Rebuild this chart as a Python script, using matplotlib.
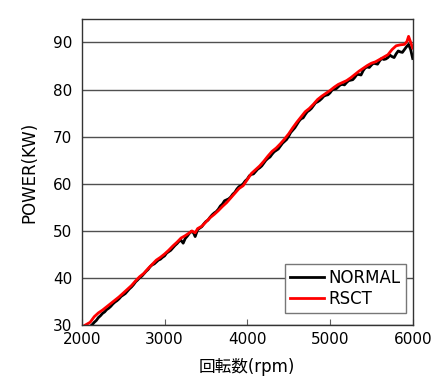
import matplotlib
matplotlib.use("Agg")
import matplotlib.pyplot as plt

plt.rcParams['font.family'] = ['DejaVu Sans', 'Noto Sans CJK JP']

# NORMAL (black)
normal_rpm = [2100, 2125, 2150, 2175, 2200, 2225, 2250, 2275, 2300, 2325, 2350, 2375,
              2400, 2425, 2450, 2475, 2500, 2525, 2550, 2575, 2600, 2625, 2650, 2675,
              2700, 2725, 2750, 2775, 2800, 2825, 2850, 2875, 2900, 2925, 2950, 2975,
              3000, 3025, 3050, 3075, 3100, 3125, 3150, 3175, 3200, 3225, 3250, 3275,
              3300, 3325, 3350, 3370, 3400, 3425, 3450, 3475, 3500, 3525, 3550, 3575,
              3600, 3625, 3650, 3675, 3700, 3725, 3750, 3775, 3800, 3825, 3850, 3875,
              3900, 3925, 3950, 3975, 4000, 4025, 4050, 4075, 4100, 4125, 4150, 4175,
              4200, 4225, 4250, 4275, 4300, 4325, 4350, 4375, 4400, 4425, 4450, 4475,
              4500, 4525, 4550, 4575, 4600, 4625, 4650, 4675, 4700, 4725, 4750, 4775,
              4800, 4825, 4850, 4875, 4900, 4925, 4950, 4975, 5000, 5025, 5050, 5075,
              5100, 5125, 5150, 5175, 5200, 5225, 5250, 5275, 5300, 5325, 5350, 5375,
              5400, 5425, 5450, 5475, 5500, 5525, 5550, 5575, 5600, 5625, 5650, 5675,
              5700, 5725, 5750, 5775, 5800, 5825, 5850, 5875, 5900, 5925, 5950, 5975,
              6000]
normal_kw = [29.7, 30.1, 30.6, 31.0, 31.6, 32.0, 32.5, 32.8, 33.3, 33.6, 34.0, 34.5,
             34.9, 35.2, 35.6, 36.1, 36.4, 36.7, 37.2, 37.7, 38.1, 38.6, 39.2, 39.6,
             40.1, 40.4, 40.9, 41.4, 41.8, 42.4, 42.8, 43.0, 43.4, 43.8, 44.0, 44.4,
             44.7, 45.3, 45.6, 45.9, 46.4, 46.9, 47.3, 47.8, 48.0, 47.4, 48.4, 48.9,
             49.5, 49.9, 49.6, 48.8, 50.3, 50.6, 50.9, 51.5, 52.0, 52.3, 52.9, 53.4,
             53.8, 54.1, 54.6, 55.3, 55.7, 56.4, 56.6, 56.8, 57.2, 57.8, 58.2, 58.9,
             59.4, 59.6, 60.0, 60.6, 61.0, 61.7, 62.0, 62.1, 62.6, 63.1, 63.4, 63.8,
             64.4, 65.0, 65.4, 65.7, 66.3, 66.8, 67.1, 67.4, 68.0, 68.6, 69.0, 69.4,
             70.1, 70.9, 71.4, 71.9, 72.6, 73.3, 73.8, 74.0, 74.7, 75.3, 75.6, 76.0,
             76.6, 77.2, 77.4, 77.7, 78.1, 78.6, 78.8, 78.9, 79.3, 79.9, 80.1, 80.2,
             80.6, 81.0, 81.1, 81.0, 81.5, 81.9, 82.0, 82.1, 82.6, 83.2, 83.2, 83.1,
             84.0, 84.6, 84.8, 84.7, 85.2, 85.6, 85.5, 85.4, 86.1, 86.6, 86.4, 86.5,
             86.8, 87.3, 87.0, 86.8, 87.6, 88.2, 88.0, 87.9, 88.5, 89.1, 89.6, 88.5,
             86.6]

# RSCT (red)
rsct_rpm = [2040, 2100, 2150, 2200, 2250, 2300, 2350, 2400, 2450, 2500, 2550, 2600,
            2650, 2700, 2750, 2800, 2850, 2900, 2950, 3000, 3050, 3100, 3150, 3200,
            3250, 3300, 3330, 3370, 3400, 3450, 3500, 3550, 3600, 3650, 3700, 3750,
            3800, 3850, 3900, 3950, 4000, 4050, 4100, 4150, 4200, 4250, 4300, 4350,
            4400, 4450, 4500, 4550, 4600, 4650, 4700, 4750, 4800, 4850, 4900, 4950,
            5000, 5050, 5100, 5150, 5200, 5250, 5300, 5350, 5400, 5450, 5500, 5550,
            5600, 5650, 5700, 5750, 5800, 5850, 5900, 5930, 5950, 5970, 6000]
rsct_kw = [30.0, 30.6, 31.8, 32.6, 33.2, 33.9, 34.6, 35.3, 36.0, 36.8, 37.6, 38.4,
           39.4, 40.3, 41.0, 42.0, 42.9, 43.8, 44.4, 45.1, 45.9, 46.8, 47.6, 48.5,
           49.0, 49.6, 50.0, 49.6, 50.5, 51.0, 51.9, 52.8, 53.5, 54.3, 55.2, 56.0,
           57.0, 58.0, 59.0, 59.6, 60.9, 62.2, 63.0, 63.8, 64.8, 65.9, 66.9, 67.6,
           68.5, 69.5, 70.6, 71.9, 73.1, 74.2, 75.3, 76.0, 76.9, 77.9, 78.6, 79.2,
           79.8, 80.5, 81.1, 81.5, 81.9, 82.5, 83.2, 83.9, 84.5, 85.1, 85.6, 85.9,
           86.4, 86.9, 87.4, 88.5, 89.3, 89.5, 89.6, 90.2, 91.3, 90.3, 88.8]

x_ticks = [2000, 3000, 4000, 5000, 6000]
y_ticks = [30, 40, 50, 60, 70, 80, 90]

fig = plt.figure(figsize=(4.4, 3.88), dpi=100)
ax = fig.add_axes([0.186, 0.162, 0.752, 0.788])

ax.plot(normal_rpm, normal_kw, color="black", lw=2.0, label="NORMAL")
ax.plot(rsct_rpm, rsct_kw, color="#ff0000", lw=2.0, label="RSCT")

ax.set_xlim(2000, 6000)
ax.set_ylim(30, 94.9)
ax.set_xticks(x_ticks)
ax.set_yticks(y_ticks)
ax.yaxis.grid(True, color="#505050", lw=1.0)
ax.set_axisbelow(True)
ax.tick_params(axis="x", direction="in", length=4, color="#606060", labelsize=11, pad=5)
ax.tick_params(axis="y", length=0, labelsize=11, pad=7)
for s in ax.spines.values():
    s.set_color("#333333")
    s.set_linewidth(1.0)

ax.set_xlabel("回転数(rpm)", fontsize=12, labelpad=8)
ax.set_ylabel("POWER(KW)", fontsize=12, labelpad=10)

leg = ax.legend(loc="lower right", bbox_to_anchor=(0.979, 0.039), fontsize=12,
                fancybox=False, framealpha=1, edgecolor="#777777",
                borderpad=0.3, labelspacing=0.2, handletextpad=0.3, borderaxespad=0)
leg.get_frame().set_linewidth(1.0)

fig.savefig("out.png", dpi=100)
